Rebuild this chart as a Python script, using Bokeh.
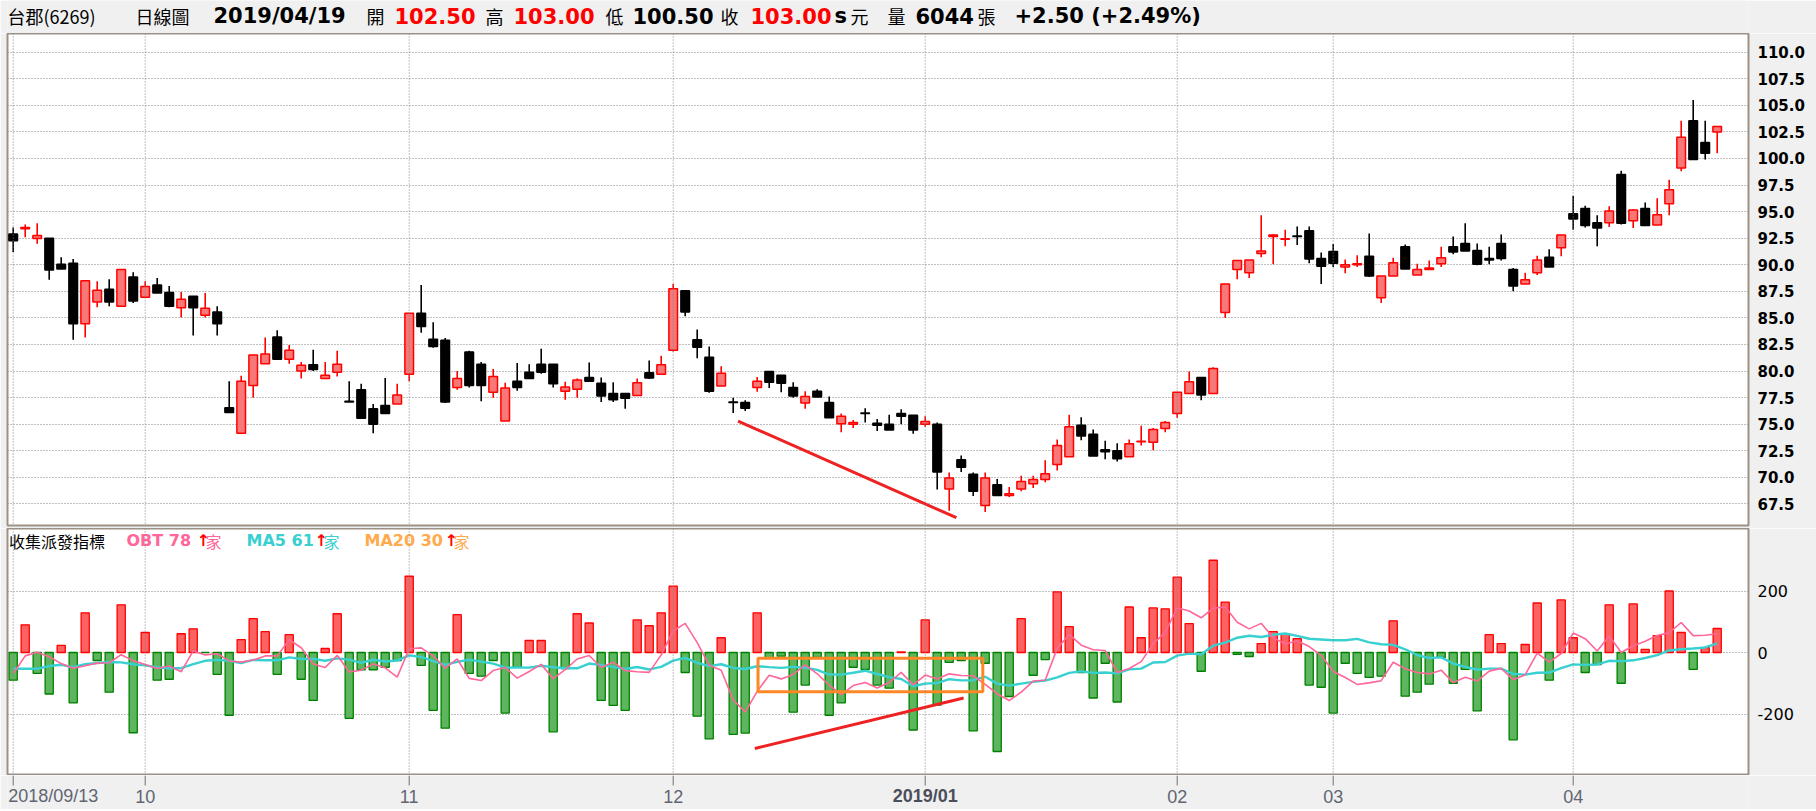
from bokeh.plotting import figure
from bokeh.models import Range1d, FixedTicker, NumeralTickFormatter, ColumnDataSource, Span
from bokeh.layouts import column
from bokeh.embed import file_html
from bokeh.resources import INLINE
from bokeh.core.properties import value

# ---------------- data ----------------
opens = [92.9, 93.4, 92.47, 92.5, 90.05, 90.15, 84.45, 86.5, 87.7, 86.1,
         88.85, 86.95, 88.1, 87.4, 85.95, 87.05, 85.25, 85.55, 76.55, 74.15,
         78.65, 80.7, 83.2, 81.1, 80.0, 80.6, 79.3, 79.9, 77.15, 78.25,
         76.45, 76.75, 76.9, 79.7, 85.45, 83.0, 82.9, 78.45, 81.8, 80.65,
         78.0, 75.3, 79.05, 79.9, 80.65, 80.65, 78.1, 78.3, 79.4, 78.85,
         77.9, 77.9, 77.7, 79.85, 79.7, 81.95, 87.55, 82.95, 81.3, 78.6,
         77.1, 77.05, 78.45, 79.95, 79.6, 78.45, 77.0, 78.1, 77.05, 75.05,
         75.0, 76.05, 75.1, 75.0, 76.0, 75.85, 75.0, 75.0, 68.9, 71.65,
         70.3, 67.35, 69.3, 68.3, 68.9, 69.4, 69.8, 71.2, 71.95, 74.9,
         74.05, 72.6, 72.5, 71.95, 73.35, 73.3, 74.6, 76.0, 77.9, 79.4,
         77.9, 85.5, 89.55, 89.25, 91.05, 92.65, 92.4, 92.7, 93.2, 90.6,
         91.25, 89.8, 90.0, 90.8, 86.9, 88.95, 91.7, 89.05, 89.55, 90.1,
         91.7, 92.0, 91.35, 90.6, 92.0, 89.55, 88.2, 89.25, 90.7, 91.6,
         94.8, 95.3, 93.95, 93.95, 98.5, 94.15, 95.3, 93.75, 95.75, 99.1,
         103.55, 101.5, 102.5]
highs = [93.5, 93.8, 93.9, 92.5, 90.7, 90.55, 88.5, 88.45, 88.65, 89.6,
         89.3, 88.45, 88.75, 88.0, 87.45, 87.05, 87.35, 86.1, 79.05, 79.55,
         81.5, 83.15, 83.85, 82.45, 80.85, 82.0, 80.85, 81.9, 79.05, 78.8,
         76.9, 79.35, 78.8, 85.45, 88.1, 84.6, 83.1, 80.0, 81.9, 80.85,
         80.2, 78.9, 80.75, 80.65, 82.1, 80.65, 79.0, 79.3, 80.8, 79.4,
         78.95, 77.9, 79.3, 81.0, 81.45, 88.2, 87.6, 83.9, 82.3, 80.45,
         77.5, 77.25, 79.45, 79.95, 79.6, 78.95, 78.1, 78.3, 77.6, 76.0,
         75.4, 76.5, 75.5, 75.9, 76.4, 75.85, 75.75, 75.15, 70.45, 72.05,
         70.45, 70.45, 69.85, 69.1, 70.15, 70.15, 71.6, 73.55, 75.9, 75.65,
         74.5, 73.45, 73.2, 73.55, 74.85, 74.65, 75.3, 78.0, 79.95, 79.4,
         80.35, 88.2, 90.4, 90.45, 94.65, 92.85, 93.3, 93.6, 93.6, 91.15,
         91.95, 90.5, 90.9, 92.95, 88.95, 90.65, 91.9, 90.1, 90.4, 91.7,
         92.65, 93.9, 92.0, 91.7, 92.85, 89.7, 89.25, 90.85, 91.45, 92.8,
         96.5, 95.55, 94.65, 95.5, 98.85, 95.25, 95.85, 96.25, 98.0, 103.55,
         105.5, 103.55, 103.0]
lows = [91.2, 92.6, 91.97, 88.6, 89.6, 82.95, 83.15, 86.0, 86.1, 86.1,
        86.4, 86.9, 87.35, 86.0, 85.05, 83.35, 85.05, 83.35, 76.1, 74.1,
        77.5, 80.7, 81.1, 80.7, 79.3, 80.0, 79.3, 79.5, 77.1, 75.5,
        74.15, 76.0, 76.9, 79.05, 83.6, 82.2, 77.0, 78.25, 78.45, 77.15,
        77.5, 75.3, 78.15, 79.3, 79.75, 78.45, 77.3, 77.5, 79.0, 77.1,
        77.1, 76.45, 77.7, 79.25, 79.7, 81.85, 85.15, 81.2, 77.95, 78.6,
        76.05, 76.25, 78.05, 78.4, 78.0, 77.5, 76.45, 77.55, 75.6, 74.25,
        74.65, 75.15, 74.35, 74.45, 75.0, 74.1, 74.75, 68.85, 66.85, 70.5,
        68.25, 66.75, 68.3, 68.15, 68.7, 69.0, 69.55, 70.65, 71.95, 73.5,
        72.0, 71.7, 71.5, 71.95, 73.0, 72.55, 74.25, 75.6, 77.9, 77.25,
        77.9, 85.0, 88.65, 88.75, 90.7, 90.05, 91.75, 91.85, 90.15, 88.2,
        89.8, 89.2, 89.8, 88.85, 86.4, 88.95, 89.6, 89.05, 89.55, 89.8,
        91.0, 91.3, 89.95, 90.05, 90.4, 87.5, 88.2, 89.05, 89.8, 90.8,
        93.3, 93.5, 91.75, 93.55, 93.8, 93.45, 93.7, 93.75, 94.65, 98.8,
        99.9, 99.9, 100.5]
closes = [92.25, 93.5, 92.75, 89.5, 89.6, 84.45, 88.5, 87.6, 86.5, 89.55,
          86.6, 87.95, 87.35, 86.1, 86.75, 85.95, 85.9, 84.45, 76.1, 79.05,
          81.5, 81.6, 81.1, 81.95, 80.55, 80.15, 79.6, 80.65, 77.1, 75.55,
          75.0, 76.0, 77.75, 85.45, 84.2, 82.3, 77.1, 79.3, 78.65, 78.65,
          79.5, 78.4, 78.45, 79.3, 79.9, 78.8, 78.5, 79.15, 79.05, 77.65,
          77.3, 77.45, 78.9, 79.35, 80.6, 87.75, 85.55, 82.25, 78.1, 79.8,
          77.05, 76.5, 79.05, 78.95, 78.85, 77.65, 77.6, 77.55, 75.6, 75.75,
          75.15, 76.0, 74.9, 74.45, 75.75, 74.45, 75.25, 70.5, 69.95, 70.95,
          68.7, 69.95, 68.3, 68.45, 69.6, 69.8, 70.35, 73.0, 74.75, 73.9,
          72.0, 72.4, 71.75, 73.15, 73.4, 74.5, 75.15, 78.0, 79.0, 77.75,
          80.25, 88.2, 90.4, 90.45, 91.3, 92.8, 92.45, 92.65, 90.55, 89.85,
          90.15, 90.0, 90.1, 88.95, 88.95, 90.2, 89.6, 89.55, 89.7, 90.65,
          91.2, 91.3, 90.05, 90.45, 90.6, 88.0, 88.6, 90.45, 89.8, 92.8,
          94.3, 93.7, 93.45, 95.05, 93.9, 95.15, 93.7, 94.7, 97.05, 102.0,
          99.9, 100.5, 103.0]
obt = [-90, 90, -68, -135, 23, -164, 129, -26, -129, 155,
       -261, 65, -90, -87, 61, 77, 0, -71, -204, 42,
       110, 68, -71, 58, -87, -156, 13, 126, -214, -56,
       -56, -48, -26, 248, -42, -188, -246, 123, -68, -77,
       -26, -197, -48, 39, 39, -258, -52, 126, 96, -156,
       -172, -188, 106, 87, 129, 216, -65, -207, -281, 48,
       -266, -262, 129, -18, -12, -194, -106, -16, -204, -164,
       -48, -55, -106, -116, 2, -252, 106, -171, -32, -26,
       -255, -35, -322, -143, 110, -74, -23, 197, 84, -65,
       -148, -35, -161, 148, 48, 145, 142, 245, 94, -61,
       300, 164, -6, -13, 29, 68, 61, 45, -106, -113,
       -197, -35, -68, -81, -77, 103, -142, -129, -103, -16,
       -100, -55, -190, 58, 29, -284, 26, 161, -90, 171,
       48, -65, -39, 155, -100, 158, 10, 55, 200, 65,
       -55, 16, 78]
ma5 = [-69, -11, 1, -14, -36, -50.8, -43, -34.6, -33.4, -7,
       -26.4, -39.2, -52, -43.6, -62.4, 5.2, -7.8, -4, -27.4, -31.2,
       -24.6, -11, -11, 41.4, 15.6, -37.6, -48.6, -9.2, -63.6, -57.4,
       -37.4, -49.6, -80, 12.4, 15.2, -11.2, -50.8, -21, -84.2, -91.2,
       -58.8, -49, -83.2, -61.8, -38.6, -85, -56, -21.2, -9.8, -48.8,
       -31.6, -58.8, -62.8, -64.6, -7.6, 70, 94.6, 32, -41.6, -57.8,
       -154.2, -193.6, -126.4, -73.8, -85.8, -71.4, -40.2, -69.2, -106.4, -136.8,
       -107.6, -97.4, -115.4, -97.8, -64.6, -105.4, -73.2, -86.2, -69.4, -75,
       -75.6, -103.8, -134, -156.2, -129, -92.8, -90.4, 13.4, 58.8, 23.8,
       9, 6.6, -65, -52.2, -29.6, 29, 64.4, 145.6, 134.8, 113,
       144, 148.4, 98.2, 76.8, 94.8, 48.4, 27.8, 38, 19.4, -9,
       -62, -81.2, -103.8, -98.8, -91.6, -31.6, -53, -65.2, -69.6, -57.4,
       -98, -80.6, -92.8, -60.6, -51.6, -88.4, -72.2, -2, -31.6, -3.2,
       63.2, 45, 5, 54, -0.2, 21.8, 36.8, 55.6, 64.6, 97.6,
       55, 56.2, 60.8]
ma20 = [-53, -53, -53, -44, -40, -48, -38, -34, -31, -32,
        -38, -42, -48, -51, -51, -38, -27, -24, -27, -34.2,
        -24.2, -25.3, -25.4, -15.8, -21.3, -20.9, -26.7, -19.1, -23.3, -33.9,
        -23.6, -29.3, -26.1, -9.3, -14.5, -27.7, -40, -30.3, -23.5, -29.5,
        -36.3, -49.5, -48.4, -49.3, -43, -48.1, -51.4, -51.4, -35.9, -40.9,
        -46.7, -53.7, -47.1, -55.1, -46.6, -26.4, -17.3, -33.8, -44.5, -38.2,
        -50.2, -53.5, -44.6, -47.5, -50, -46.8, -49.5, -56.6, -71.6, -72,
        -65.8, -59.2, -69.8, -79.9, -86.3, -109.7, -101.1, -99.3, -86.9, -90.6,
        -90, -78.7, -101.2, -107.5, -101.4, -95.4, -91.2, -80.6, -66.2, -61.2,
        -66.2, -65.2, -68, -54.8, -52.5, -32.6, -30.8, -10, -3.7, -5.5,
        22.3, 32.3, 48.1, 54.6, 50.5, 57.6, 61.8, 54.2, 44.7, 42.3,
        39.9, 39.9, 44.5, 33.1, 26.8, 24.7, 10.5, -8.2, -18.1, -15.8,
        -35.8, -46.8, -56, -52.4, -52.4, -70, -71.8, -66, -65.2, -51,
        -38.7, -40.2, -38.8, -27, -28.1, -25.4, -17.8, -8.6, 6.6, 10.7,
        12.9, 16.5, 29.9]

month_ticks = [0, 11, 33, 55, 76, 97, 110, 130]
month_labels = ["2018/09/13", "10", "11", "12", "2019/01", "02", "03", "04"]
price_ticks = [67.5, 70.0, 72.5, 75.0, 77.5, 80.0, 82.5, 85.0, 87.5, 90.0,
               92.5, 95.0, 97.5, 100.0, 102.5, 105.0, 107.5, 110.0]
ind_ticks = [-200, 0, 200]

# hand-drawn annotations on the original chart (index, value)
price_trend_x = [60.4, 78.6]
price_trend_y = [75.3, 66.2]
ind_trend_x = [61.8, 79.2]
ind_trend_y = [-312, -148]
box_left, box_right, box_bottom, box_top = 62.07, 80.8, -128, -19

title_tokens = ["台郡(6269)", "日線圖", "2019/04/19", "開", "102.50", "高", "103.00",
                "低", "100.50", "收", "103.00", "s", "元", "量", "6044", "張",
                "+2.50 (+2.49%)"]

# ---------------- styles ----------------
BG = "#f0f0f0"
GRID = "#808080"
FRAME = "#9d9185"
UP_FILL, UP_LINE = "#f87878", "#ff0000"
DN = "#000000"
BAR_UP_FILL, BAR_UP_LINE = "#fc6262", "#ff0000"
BAR_DN_FILL, BAR_DN_LINE = "#5db65d", "#008000"
PINK, CYAN, ORANGE = "#ff6699", "#38d0d0", "#ffaa4c"

W = 1816
N = len(closes)
idx = list(range(N))

# page pixel -> data index (candle i sits at page x = 12.7 + 12 i)
def px_to_x(px):
    return (px - 12.7) / 12.0

FL, FR = 7, 1748          # frame left / right on the page (all figures share it)
X0, X1 = px_to_x(FL), px_to_x(FR)


def style_common(p):
    p.background_fill_color = "white"
    p.border_fill_color = BG
    p.outline_line_color = FRAME
    p.outline_line_width = 2


# ---------------- title bar ----------------
tp = figure(width=W, height=33, x_range=Range1d(FL, FR), y_range=Range1d(0, 33),
            output_backend="svg", toolbar_location=None, min_border_left=FL,
            min_border_right=W - FR, min_border_top=0, min_border_bottom=0,
            x_axis_location=None, y_axis_location=None)
tp.background_fill_color = BG
tp.border_fill_color = BG
tp.outline_line_color = None
tp.grid.visible = False

tx = [7, 135, 213, 366, 394, 485, 513, 605, 632, 720, 750, 834, 850, 887, 915, 977, 1014]
tcol = ["black", "black", "black", "black", "#ff0000", "black", "#ff0000", "black", "black",
        "black", "#ff0000", "black", "black", "black", "black", "black", "black"]
tkind = ["r", "c", "n", "c", "n", "c", "n", "c", "n", "c", "n", "n", "c", "c", "n", "c", "n"]
for kind, font, size, style in [("r", "Noto Sans CJK TC", "18px", "normal"),
                                ("c", "Noto Sans CJK TC", "18px", "normal"),
                                ("n", "DejaVu Sans", "21px", "bold")]:
    sel = [i for i, k in enumerate(tkind) if k == kind]
    src = ColumnDataSource(dict(x=[tx[i] for i in sel], y=[18] * len(sel),
                                t=[title_tokens[i] for i in sel], c=[tcol[i] for i in sel]))
    tp.text(x="x", y="y", text="t", text_color="c", source=src, text_font=value(font),
            text_font_size=size, text_font_style=style, text_baseline="middle", text_align="left")

# ---------------- price panel ----------------
pp = figure(width=W, height=495, x_range=Range1d(X0, X1), y_range=Range1d(65.47, 111.76),
            y_axis_location="right", x_axis_location=None, output_backend="svg",
            toolbar_location=None, min_border_left=FL, min_border_right=W - FR,
            min_border_top=0, min_border_bottom=3)
style_common(pp)
pp.xgrid.visible = False
pp.ygrid.ticker = FixedTicker(ticks=price_ticks)
pp.ygrid.grid_line_color = GRID
pp.ygrid.grid_line_dash = "1 2"
pp.yaxis.ticker = FixedTicker(ticks=price_ticks)
pp.yaxis.formatter = NumeralTickFormatter(format="0.0")
pp.yaxis.major_label_text_font = "DejaVu Sans"
pp.yaxis.major_label_text_font_style = "bold"
pp.yaxis.major_label_text_font_size = "15px"
pp.yaxis.major_label_text_color = "black"
pp.yaxis.axis_line_color = None
pp.yaxis.major_tick_line_color = None
pp.yaxis.minor_tick_line_color = None
pp.yaxis.major_label_standoff = 3
for t in month_ticks:
    pp.add_layout(Span(location=t, dimension="height", line_color=GRID, line_dash="1 2", line_width=1))

up = [c >= o for o, c in zip(opens, closes)]
csrc = ColumnDataSource(dict(
    x=idx, o=opens, h=highs, l=lows, c=closes,
    top=[max(o, c) for o, c in zip(opens, closes)],
    bot=[min(o, c) for o, c in zip(opens, closes)],
    fill=[UP_FILL if u else DN for u in up],
    line=[UP_LINE if u else DN for u in up],
))
pp.segment(x0="x", y0="l", x1="x", y1="h", line_color="line", line_width=1.6, source=csrc)
pp.vbar(x="x", width=0.72, top="top", bottom="bot", fill_color="fill", line_color="line",
        line_width=1.5, source=csrc)
pp.line(price_trend_x, price_trend_y, line_color="#ee2222", line_width=3)

# ---------------- indicator panel ----------------
ip = figure(width=W, height=247, x_range=pp.x_range, y_range=Range1d(-400, 403.3),
            y_axis_location="right", x_axis_location=None, output_backend="svg",
            toolbar_location=None, min_border_left=FL, min_border_right=W - FR,
            min_border_top=0, min_border_bottom=0)
style_common(ip)
ip.xgrid.visible = False
ip.ygrid.ticker = FixedTicker(ticks=ind_ticks)
ip.ygrid.grid_line_color = GRID
ip.ygrid.grid_line_dash = "1 2"
ip.yaxis.ticker = FixedTicker(ticks=ind_ticks)
ip.yaxis.major_label_overrides = {-200: "-200", 0: "0", 200: "200"}
ip.yaxis.major_label_text_font = "DejaVu Sans"
ip.yaxis.major_label_text_font_size = "16px"
ip.yaxis.major_label_text_color = "black"
ip.yaxis.axis_line_color = None
ip.yaxis.major_tick_line_color = None
ip.yaxis.minor_tick_line_color = None
ip.yaxis.major_label_standoff = 3
for t in month_ticks:
    ip.add_layout(Span(location=t, dimension="height", line_color=GRID, line_dash="1 2", line_width=1))

bsrc = ColumnDataSource(dict(
    x=idx, v=obt,
    fill=[BAR_UP_FILL if v > 0 else BAR_DN_FILL for v in obt],
    line=[BAR_UP_LINE if v > 0 else BAR_DN_LINE for v in obt],
))
ip.vbar(x="x", width=0.68, top="v", bottom=0, fill_color="fill", line_color="line",
        line_width=1.3, source=bsrc)
ip.line(idx, ma20, line_color=CYAN, line_width=2.4)
ip.line(idx, ma5, line_color=PINK, line_width=1.6)
ip.line(ind_trend_x, ind_trend_y, line_color="#ee2222", line_width=3)
ip.quad(left=[box_left], right=[box_right], bottom=[box_bottom], top=[box_top],
        fill_alpha=0, line_color="#ff8826", line_width=3)

# legend row of the indicator panel
leg_y = 364
leg = [("收集派發指標", 8.4, "black", "Noto Sans CJK TC", "normal"),
       ("OBT 78", 126, PINK, "DejaVu Sans", "bold"),
       ("↑", 196, "#ff0000", "DejaVu Sans", "bold"),
       ("家", 205, PINK, "Noto Sans CJK TC", "normal"),
       ("MA5 61", 246, CYAN, "DejaVu Sans", "bold"),
       ("↑", 314, "#ff0000", "DejaVu Sans", "bold"),
       ("家", 323, CYAN, "Noto Sans CJK TC", "normal"),
       ("MA20 30", 364, ORANGE, "DejaVu Sans", "bold"),
       ("↑", 444, "#ff0000", "DejaVu Sans", "bold"),
       ("家", 453, ORANGE, "Noto Sans CJK TC", "normal")]
for t, px, col, font, style in leg:
    ip.text(x=[px_to_x(px)], y=[leg_y], text=[t], text_color=col, text_font=value(font),
            text_font_size="16px", text_font_style=style, text_baseline="middle", text_align="left")

# ---------------- date strip ----------------
SH = 34
sp = figure(width=W, height=SH, x_range=pp.x_range, y_range=Range1d(0, SH),
            output_backend="svg", toolbar_location=None, min_border_left=FL,
            min_border_right=W - FR, min_border_top=0, min_border_bottom=0,
            x_axis_location=None, y_axis_location=None)
sp.background_fill_color = BG
sp.border_fill_color = BG
sp.outline_line_color = None
sp.grid.visible = False
sp.segment(x0=month_ticks, y0=[SH] * len(month_ticks), x1=month_ticks, y1=[SH - 10] * len(month_ticks),
           line_color="#707070", line_width=1)
lab_y = SH - 20.5
sp.text(x=[month_ticks[0]], y=[lab_y], text=[month_labels[0]], text_color="#5f6672",
        text_font=value("Liberation Sans"), text_font_size="18px", text_baseline="middle",
        text_align="left", x_offset=-5)
rest = [i for i in range(1, len(month_ticks)) if i != 4]
sp.text(x=[month_ticks[i] for i in rest], y=[lab_y] * len(rest), text=[month_labels[i] for i in rest],
        text_color="#5f6672", text_font=value("Liberation Sans"), text_font_size="18px",
        text_baseline="middle", text_align="center")
sp.text(x=[month_ticks[4]], y=[lab_y], text=[month_labels[4]], text_color="#4a4f5a",
        text_font=value("Liberation Sans"), text_font_size="18px", text_font_style="bold",
        text_baseline="middle", text_align="center")

layout = column(tp, pp, ip, sp, spacing=0)
open("out.html", "w").write(file_html(layout, INLINE))
